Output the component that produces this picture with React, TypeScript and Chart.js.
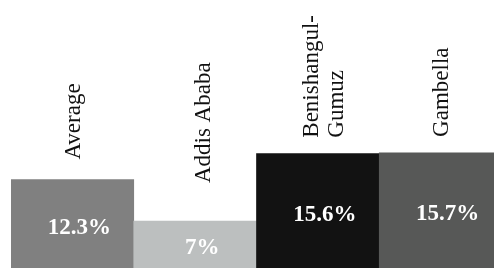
import React, { useEffect, useRef } from "react";
import { Chart, registerables } from "chart.js";

Chart.register(...registerables);

const categories: string[][] = [["Average"], ["Addis Ababa"], ["Benishangul-", "Gumuz"], ["Gambella"]];
const values: number[] = [12.3, 7, 15.6, 15.7];
const valueLabels: string[] = ["12.3%", "7%", "15.6%", "15.7%"];
const barColors: string[] = ["#808080", "#bcbfbf", "#121212", "#575857"];

const labelPlugin = {
  id: "barLabels",
  afterDatasetsDraw(chart: any, _args: any, opts: any) {
    const meta = chart.getDatasetMeta(0);
    const ctx = chart.ctx;
    const yBase = chart.scales.y.getPixelForValue(0);
    meta.data.forEach((bar: any, i: number) => {
      const { x, y } = bar.getProps(["x", "y"], true);
      ctx.save();
      ctx.font = 'bold 23px "Liberation Serif"';
      ctx.fillStyle = "#ffffff";
      ctx.textAlign = "center";
      ctx.textBaseline = "middle";
      ctx.fillText(valueLabels[i], x + opts.valueDx, (y + yBase) / 2);

      const lines = categories[i];
      ctx.font = '23px "Liberation Serif"';
      ctx.fillStyle = "#111111";
      ctx.translate(x + opts.dx[i], y - opts.gap[i]);
      ctx.rotate(-Math.PI / 2);
      ctx.textAlign = "left";
      ctx.textBaseline = "alphabetic";
      const lh = 25;
      lines.forEach((l: string, j: number) => {
        ctx.fillText(l, 0, 7.5 + (j - (lines.length - 1) / 2) * lh);
      });
      ctx.restore();
    });
  },
};

export default function App() {
  const ref = useRef<HTMLCanvasElement | null>(null);
  useEffect(() => {
    if (!ref.current) return;
    const chart = new Chart(ref.current, {
      type: "bar",
      data: {
        labels: categories.map((c) => c.join(" ")),
        datasets: [
          {
            data: values,
            backgroundColor: barColors,
            borderWidth: 0,
            categoryPercentage: 1,
            barPercentage: 1,
          },
        ],
      },
      options: {
        responsive: false,
        animation: false,
        devicePixelRatio: 1,
        layout: { padding: 0 },
        plugins: {
          legend: { display: false },
          tooltip: { enabled: false },
          barLabels: { valueDx: 7, dx: [0, 7.5, 5, 0], gap: [20, 38, 16, 16] },
        } as any,
        scales: {
          x: { display: false },
          y: { display: false, min: 0, max: 35.2 },
        },
      },
      plugins: [labelPlugin],
    });
    return () => chart.destroy();
  }, []);
  return (
    <div style={{ position: "fixed", left: 0, top: 0, width: "100vw", height: "100vh", overflow: "hidden", background: "#fff" }}>
      <canvas ref={ref} width={491} height={276} style={{ position: "absolute", left: 11, top: 0, display: "block" }} />
    </div>
  );
}
